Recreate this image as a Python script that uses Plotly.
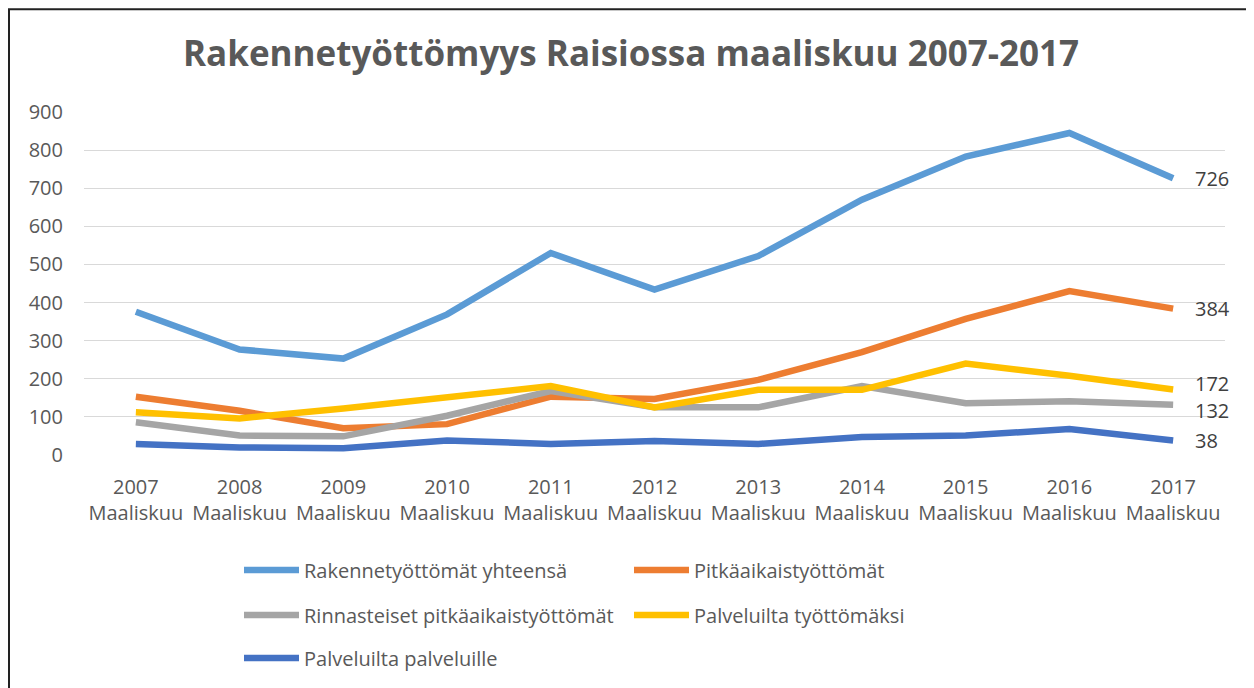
import plotly.graph_objects as go

years = ["2007", "2008", "2009", "2010", "2011", "2012", "2013", "2014", "2015", "2016", "2017"]
month = "Maaliskuu"
tick_labels = [f"{y}<br>{month}" for y in years]

rakenne = [376, 277, 253, 369, 530, 434, 522, 670, 783, 845, 726]
pitka = [153, 116, 70, 81, 153, 147, 197, 270, 357, 430, 384]
rinnasteiset = [86, 51, 49, 103, 168, 125, 125, 181, 136, 141, 132]
palv_tyott = [112, 96, 122, 150, 181, 125, 171, 171, 240, 208, 172]
palv_palv = [29, 20, 18, 38, 29, 37, 29, 47, 51, 68, 38]

series = [
    ("Rakennetyöttömät yhteensä", rakenne, "#5B9BD5", "legend"),
    ("Pitkäaikaistyöttömät", pitka, "#ED7D31", "legend"),
    ("Rinnasteiset pitkäaikaistyöttömät", rinnasteiset, "#A5A5A5", "legend2"),
    ("Palveluilta työttömäksi", palv_tyott, "#FFC000", "legend2"),
    ("Palveluilta palveluille", palv_palv, "#4472C4", "legend3"),
]
label_shift = {"Palveluilta työttömäksi": 6, "Rinnasteiset pitkäaikaistyöttömät": -6}

FONT = "Open Sans"
TXT = "#595959"

# figure is placed with the page's 8px body margin, so size it to fit the window
W, H = 1246, 680
L, R, T, B = 76, 29, 104, 232
PW, PH = W - L - R, H - T - B

fig = go.Figure()
for name, vals, col, lg in series:
    fig.add_trace(go.Scatter(
        x=list(range(len(years))), y=vals, name=name, mode="lines",
        line=dict(color=col, width=6.5), legend=lg,
    ))

annotations = []
for name, vals, col, lg in series:
    annotations.append(dict(
        x=len(years) - 1, y=vals[-1], xref="x", yref="y",
        text=str(vals[-1]), showarrow=False, xanchor="left", yanchor="middle",
        xshift=20, yshift=label_shift.get(name, 0),
        font=dict(family=FONT, size=20, color="#404040"),
    ))

leg_common = dict(orientation="h", xanchor="left", yanchor="middle",
                  entrywidth=320, entrywidthmode="pixels", itemwidth=55,
                  font=dict(family=FONT, size=20, color=TXT),
                  bgcolor="rgba(0,0,0,0)")
lx = (231 - L) / PW
row_y = [562, 607, 650]

fig.update_layout(
    width=W, height=H,
    margin=dict(l=L, r=R, t=T, b=B),
    paper_bgcolor="white", plot_bgcolor="white",
    font=dict(family=FONT, size=20, color=TXT),
    title=dict(text="<b>Rakennetyöttömyys Raisiossa maaliskuu 2007-2017</b>",
               x=0.5, xanchor="center", y=1 - 46 / H, yanchor="middle",
               font=dict(family=FONT, size=35, color=TXT)),
    xaxis=dict(tickmode="array", tickvals=list(range(len(years))), ticktext=tick_labels,
               range=[-0.5, len(years) - 0.5], showgrid=False, zeroline=False,
               showline=False, tickangle=0, ticks="", ticklabelstandoff=18,
               tickfont=dict(family=FONT, size=20, color=TXT)),
    yaxis=dict(range=[0, 900], dtick=100, showgrid=True, gridcolor="#D9D9D9",
               gridwidth=1.3, zeroline=False, showline=False, ticks="",
               ticklabelstandoff=20, tickfont=dict(family=FONT, size=20, color=TXT)),
    legend=dict(x=lx, y=(H - B - row_y[0]) / PH, **leg_common),
    legend2=dict(x=lx, y=(H - B - row_y[1]) / PH, **leg_common),
    legend3=dict(x=lx, y=(H - B - row_y[2]) / PH, **leg_common),
    annotations=annotations,
    showlegend=True,
)

fig.add_shape(type="rect", xref="paper", yref="paper",
              x0=(1 - L) / PW, x1=(1243.5 - L) / PW,
              y0=(H - B - 700) / PH, y1=(H - B - 1) / PH,
              line=dict(color="#222222", width=2), fillcolor="rgba(0,0,0,0)",
              layer="below")

fig.write_html("out.html")
